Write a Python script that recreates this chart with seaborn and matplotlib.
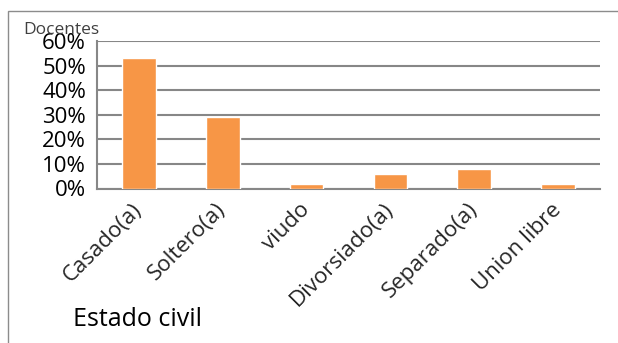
import matplotlib
matplotlib.use("Agg")
import matplotlib.pyplot as plt
import matplotlib.patches as mpatches
from matplotlib.ticker import PercentFormatter, FixedLocator
import seaborn as sns
import pandas as pd

categorias = ["Casado(a)", "Soltero(a)", "viudo", "Divorsiado(a)", "Separado(a)", "Union libre"]
porcentajes = [53, 29, 2, 6, 8, 2]

sns.set_theme(style="white")
plt.rcParams["font.family"] = ["Open Sans", "DejaVu Sans"]

df = pd.DataFrame({"estado": categorias, "pct": porcentajes})

fig = plt.figure(figsize=(6.18, 3.43), dpi=100)
ax = fig.add_axes([97 / 618, 1 - 188.5 / 343, (600 - 97) / 618, (188.5 - 41) / 343])

# outer chart frame
fig.patches.append(mpatches.Rectangle((8 / 618, -0.01), 1.0, 1 - 11 / 343 + 0.01,
                                      transform=fig.transFigure, fill=False,
                                      edgecolor="#8c8c8c", linewidth=1.0, zorder=0))

sns.barplot(data=df, x="estado", y="pct", color="#F79646", saturation=1,
            width=0.4, ax=ax, zorder=3)

ax.set_ylim(0, 60)
ax.set_xlim(-0.5, len(categorias) - 0.5)
ax.set_yticks(range(0, 61, 10))
ax.yaxis.set_major_formatter(PercentFormatter(decimals=0))
ax.grid(axis="y", color="#878787", linewidth=1.5, zorder=0)
ax.set_axisbelow(True)

for s in ["top", "right"]:
    ax.spines[s].set_visible(False)
for s in ["left", "bottom"]:
    ax.spines[s].set_color("#878787")
    ax.spines[s].set_linewidth(1.5)

# category ticks sit between the bars
ax.set_xticks(range(len(categorias)))
ax.set_xticklabels(categorias, rotation=45, ha="right", va="center",
                   rotation_mode="anchor", fontsize=16)
ax.tick_params(axis="x", which="major", length=0, pad=13)
ax.xaxis.set_minor_locator(FixedLocator([i - 0.5 for i in range(len(categorias) + 1)]))
ax.tick_params(axis="x", which="minor", length=6, width=1.5, color="#878787", direction="out")
ax.tick_params(axis="y", length=6, width=1.5, color="#878787", direction="out", labelsize=16, pad=2)
for lbl in ax.get_yticklabels():
    lbl.set_color("black")

ax.set_xlabel("")
ax.set_ylabel("")

fig.text(23 / 618, 1 - 30 / 343, "Docentes", fontsize=12.5, color="#404040", va="center", ha="left")
fig.text(73 / 618, 1 - 319 / 343, "Estado civil", fontsize=18, color="black", va="center", ha="left")

fig.savefig("out.png", dpi=100)
